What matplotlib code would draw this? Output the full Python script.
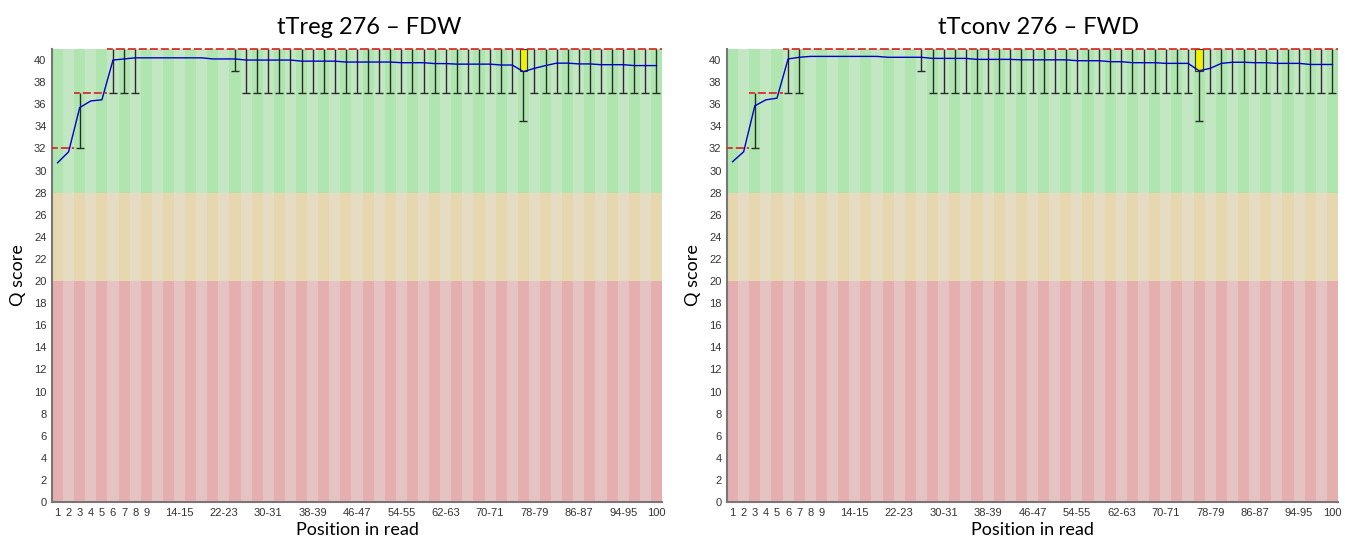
import numpy as np
import matplotlib
matplotlib.use('Agg')
from matplotlib import pyplot as plt

# bins of the read (FastQC grouping)
bins = ['1', '2', '3', '4', '5', '6', '7', '8', '9',
        '10-11', '12-13', '14-15', '16-17', '18-19', '20-21', '22-23', '24-25',
        '26-27', '28-29', '30-31', '32-33', '34-35', '36-37', '38-39', '40-41',
        '42-43', '44-45', '46-47', '48-49', '50-51', '52-53', '54-55', '56-57',
        '58-59', '60-61', '62-63', '64-65', '66-67', '68-69', '70-71', '72-73',
        '74-75', '76-77', '78-79', '80-81', '82-83', '84-85', '86-87', '88-89',
        '90-91', '92-93', '94-95', '96-97', '98-99', '100']
shown_ticks = ['1', '2', '3', '4', '5', '6', '7', '8', '9', '14-15', '22-23',
               '30-31', '38-39', '46-47', '54-55', '62-63', '70-71', '78-79',
               '86-87', '94-95', '100']

# tTreg 276 - FDW
treg_mean = [30.7, 31.7, 35.7, 36.3, 36.4, 40.0, 40.1,
             40.2, 40.2, 40.2, 40.2, 40.2, 40.2, 40.2,
             40.1, 40.1, 40.1,
             40.0, 40.0, 40.0, 40.0, 40.0,
             39.9, 39.9, 39.9, 39.9,
             39.82, 39.82, 39.82, 39.82, 39.82,
             39.76, 39.76, 39.76,
             39.68, 39.68,
             39.63, 39.63, 39.63, 39.63,
             39.55, 39.55,
             38.95, 39.25, 39.5,
             39.72, 39.72, 39.65, 39.65,
             39.58, 39.58, 39.58, 39.5, 39.5, 39.5]
treg_median = [32, 32, 37, 37, 37] + [41] * 50
treg_q1 = [32, 32, 37, 37, 37] + [41] * 37 + [39] + [41] * 12
treg_q3 = [32, 32, 37, 37, 37] + [41] * 50
treg_p10 = ([32, 32, 32, 37, 37, 37, 37, 37] + [41] * 8 + [39]
            + [37] * 25 + [34.5] + [37] * 12)
treg_p90 = [32, 32, 37, 37, 37] + [41] * 50

# tTconv 276 - FWD
tconv_mean = [30.8, 31.7, 35.85, 36.4, 36.55, 40.1, 40.25,
              40.33, 40.33, 40.33, 40.33, 40.33, 40.33, 40.33,
              40.25, 40.25, 40.25, 40.25,
              40.15, 40.15, 40.15, 40.15,
              40.06, 40.06, 40.06, 40.06,
              40.02, 40.02, 40.02, 40.02, 40.02,
              39.94, 39.94, 39.94,
              39.85, 39.85,
              39.76, 39.76, 39.76,
              39.7, 39.7, 39.7,
              39.03, 39.25, 39.7,
              39.8, 39.8, 39.76, 39.76,
              39.7, 39.7, 39.7, 39.6, 39.6, 39.6]
tconv_median = [32, 32, 37, 37, 37] + [41] * 50
tconv_q1 = [32, 32, 37, 37, 37] + [41] * 37 + [39] + [41] * 12
tconv_q3 = [32, 32, 37, 37, 37] + [41] * 50
tconv_p10 = ([32, 32, 32, 37, 37, 37, 37] + [41] * 10 + [39]
             + [37] * 24 + [34.5] + [37] * 12)
tconv_p90 = [32, 32, 37, 37, 37] + [41] * 50

titles = ['tTreg 276 \u2013 FDW', 'tTconv 276 \u2013 FWD']

GOOD = [(175/255, 230/255, 175/255), (195/255, 230/255, 195/255)]
BAD = [(230/255, 215/255, 175/255), (230/255, 220/255, 195/255)]
UGLY = [(230/255, 175/255, 175/255), (230/255, 195/255, 195/255)]

fig = plt.figure(figsize=(13.45, 5.42), dpi=100)


def draw(ax, mean, median, q1, q3, p10, p90):
    x = np.arange(len(bins))
    stripe = [0 if i % 2 == 0 else 1 for i in x]
    ax.bar(x, 20, bottom=0, width=1.0, color=[UGLY[s] for s in stripe], linewidth=0)
    ax.bar(x, 8, bottom=20, width=1.0, color=[BAD[s] for s in stripe], linewidth=0)
    ax.bar(x, 13, bottom=28, width=1.0, color=[GOOD[s] for s in stripe], linewidth=0)

    q1 = np.array(q1, float)
    q3 = np.array(q3, float)
    p10 = np.array(p10, float)
    p90 = np.array(p90, float)
    med = np.array(median, float)

    # whiskers (upper caps sit under the median line, not drawn)
    lo = p10 < q1
    ax.vlines(x[lo], p10[lo], q1[lo], color='#2a2a2a', lw=1.0, zorder=3)
    ax.hlines(p10[lo], x[lo] - 0.36, x[lo] + 0.36, color='#2a2a2a', lw=1.0, zorder=3)
    hi = p90 > q3
    ax.vlines(x[hi], q3[hi], p90[hi], color='#2a2a2a', lw=1.0, zorder=3)

    # boxes
    bx = q3 > q1
    ax.bar(x[bx], (q3 - q1)[bx], bottom=q1[bx], width=0.66, color=(240/255, 240/255, 0),
           edgecolor='#333333', linewidth=0.8, zorder=4)

    # medians
    ax.hlines(med, x - 0.5, x + 0.5, color=(220/255, 30/255, 30/255), lw=1.2,
              linestyles=(0, (3.5, 1.8)), zorder=5, clip_on=False)

    # mean
    ax.plot(x, mean, color=(0, 0, 200/255), lw=1.0, zorder=6)

    ax.set_xlim(-0.5, len(bins) - 0.5)
    ax.set_ylim(0, 41)
    ax.set_yticks(range(0, 41, 2))
    ax.set_yticklabels([str(v) for v in range(0, 41, 2)], family='Liberation Sans',
                       fontsize=8, color='#333333')
    pos = [bins.index(t) for t in shown_ticks]
    ax.set_xticks(pos)
    ax.set_xticklabels(shown_ticks, family='Liberation Sans', fontsize=8, color='#333333')
    ax.tick_params(length=0, pad=4)
    for s in ['top', 'right']:
        ax.spines[s].set_visible(False)
    for s in ['left', 'bottom']:
        ax.spines[s].set_color('#777777')
        ax.spines[s].set_linewidth(1.5)
    ax.set_ylabel('Q score', family='Lato', fontsize=13, labelpad=6)
    ax.set_xlabel('Position in read', family='Lato', fontsize=13, labelpad=3)


ax1 = fig.add_axes([52/1345, 40/542, 610/1345, 453/542])
draw(ax1, treg_mean, treg_median, treg_q1, treg_q3, treg_p10, treg_p90)
ax2 = fig.add_axes([727/1345, 40/542, 611/1345, 453/542])
draw(ax2, tconv_mean, tconv_median, tconv_q1, tconv_q3, tconv_p10, tconv_p90)

fig.text(369/1345, 1 - 27/542, titles[0], family='Lato', fontsize=17, ha='center', va='center')
fig.text(1038/1345, 1 - 27/542, titles[1], family='Lato', fontsize=17, ha='center', va='center')

fig.savefig('out.png', dpi=100)
